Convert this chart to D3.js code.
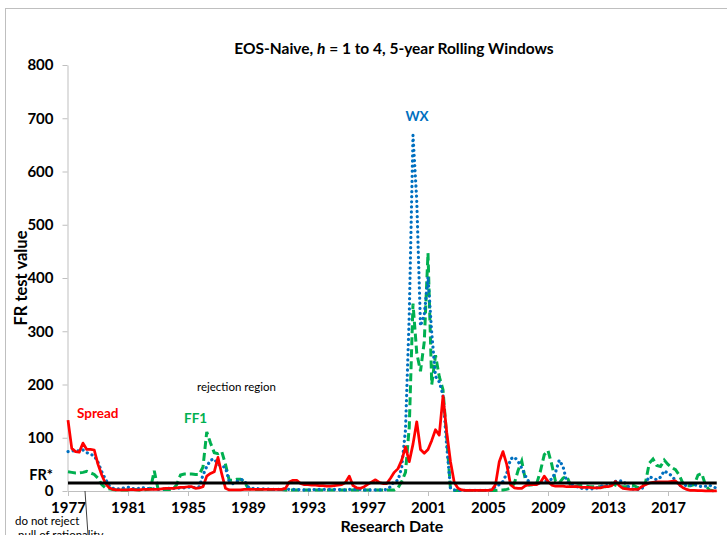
<!DOCTYPE html>
<html>
<head>
<meta charset="utf-8">
<script src="https://cdn.jsdelivr.net/npm/d3@7"></script>
<style>
  html, body { margin: 0; padding: 0; background: #fff; }
  svg { display: block; font-family: Lato, "Open Sans", sans-serif; }
</style>
</head>
<body>
<svg id="chart" width="727" height="535"></svg>
<script>
// Quarterly FR test statistics, first quarter of 1977 through second quarter of 2020
const startYear = 1977;

const spread = [
  133, 80, 74, 73,     // 1977
  90, 78, 78, 77,      // 1978
  50, 30, 14, 6,       // 1979
  3, 2, 2, 2,          // 1980
  2, 3, 2, 2,          // 1981
  3, 3, 3, 3,          // 1982
  3, 4, 5, 5,          // 1983
  5, 6, 7, 7,          // 1984
  8, 8, 5, 6,          // 1985
  8, 28, 33, 36,       // 1986
  63, 32, 5, 2,        // 1987
  2, 2, 2, 3,          // 1988
  3, 3, 3, 3,          // 1989
  3, 3, 3, 3,          // 1990
  3, 3, 5, 17,         // 1991
  20, 20, 14, 12,      // 1992
  12, 11, 11, 10,      // 1993
  10, 9, 9, 10,        // 1994
  11, 12, 16, 28,      // 1995
  10, 6, 5, 8,         // 1996
  13, 17, 21, 16,      // 1997
  14, 14, 24, 35,      // 1998
  42, 58, 83, 55,      // 1999
  88, 130, 78, 71,     // 2000
  78, 95, 115, 105,    // 2001
  178, 110, 55, 16,    // 2002
  5, 2, 1, 1,          // 2003
  1, 1, 1, 1,          // 2004
  1, 2, 12, 55,        // 2005
  74, 50, 12, 6,       // 2006
  5, 5, 10, 12,        // 2007
  12, 12, 16, 28,      // 2008
  18, 11, 9, 9,        // 2009
  9, 8, 8, 8,          // 2010
  8, 7, 7, 7,          // 2011
  6, 6, 6, 8,          // 2012
  8, 10, 18, 10,       // 2013
  5, 4, 3, 3,          // 2014
  3, 8, 12, 15,        // 2015
  16, 17, 17, 17,      // 2016
  17, 18, 19, 12,      // 2017
  6, 3, 1, 1,          // 2018
  0.5, 0.5, 0.3, 0.3,  // 2019
  0.2, 0.2             // 2020
];

const wx = [
  74, 75, 76, 75,      // 1977
  77, 72, 69, 66,      // 1978
  54, 36, 22, 10,      // 1979
  5, 4, 4, 6,          // 1980
  7, 5, 4, 5,          // 1981
  6, 5, 4, 4,          // 1982
  3, 4, 4, 5,          // 1983
  5, 5, 6, 6,          // 1984
  7, 7, 6, 8,          // 1985
  30, 46, 58, 60,      // 1986
  50, 47, 44, 18,      // 1987
  14, 18, 22, 20,      // 1988
  8, 5, 5, 4,          // 1989
  4, 4, 3, 3,          // 1990
  3, 3, 4, 3,          // 1991
  3, 3, 2, 2,          // 1992
  2, 2, 3, 3,          // 1993
  3, 3, 3, 3,          // 1994
  3, 2, 2, 3,          // 1995
  3, 3, 3, 2,          // 1996
  2, 2, 2, 2,          // 1997
  2, 3, 8, 18,         // 1998
  20, 45, 115, 330,    // 1999
  668, 546, 310, 330,  // 2000
  402, 296, 215, 205,  // 2001
  180, 83, 5, 2,       // 2002
  1, 1, 1, 1,          // 2003
  1, 1, 1, 1,          // 2004
  1, 2, 8, 12,         // 2005
  18, 33, 60, 64,      // 2006
  56, 43, 28, 16,      // 2007
  11, 14, 16, 18,      // 2008
  20, 22, 35, 58,      // 2009
  46, 18, 12, 11,      // 2010
  7, 5, 4, 4,          // 2011
  4, 6, 9, 10,         // 2012
  10, 12, 18, 19,      // 2013
  19, 11, 5, 3,        // 2014
  3, 4, 14, 27,        // 2015
  24, 21, 26, 38,      // 2016
  33, 29, 19, 10,      // 2017
  10, 11, 11, 12,      // 2018
  10, 8, 9, 11,        // 2019
  8, 5                 // 2020
];

const ff1 = [
  36, 35, 34, 34,      // 1977
  35, 37, 34, 31,      // 1978
  24, 12, 6, 4,        // 1979
  3, 2, 2, 2,          // 1980
  2, 3, 3, 2,          // 1981
  2, 3, 4, 38,         // 1982
  4, 3, 3, 3,          // 1983
  3, 12, 30, 32,       // 1984
  32, 32, 31, 31,      // 1985
  45, 111, 90, 72,     // 1986
  70, 74, 50, 20,      // 1987
  20, 22, 22, 18,      // 1988
  5, 3, 3, 3,          // 1989
  3, 3, 3, 3,          // 1990
  3, 3, 2, 2,          // 1991
  2, 2, 2, 2,          // 1992
  2, 2, 2, 2,          // 1993
  2, 2, 2, 2,          // 1994
  2, 2, 2, 2,          // 1995
  2, 2, 2, 2,          // 1996
  2, 2, 2, 2,          // 1997
  2, 2, 2, 2,          // 1998
  6, 18, 35, 120,      // 1999
  352, 259, 225, 280,  // 2000
  447, 200, 255, 215,  // 2001
  190, 100, 3, 1,      // 2002
  1, 1, 1, 1,          // 2003
  1, 1, 1, 1,          // 2004
  1, 1, 1, 2,          // 2005
  2, 3, 5, 14,         // 2006
  38, 56, 20, 11,      // 2007
  12, 14, 38, 68,      // 2008
  76, 50, 18, 15,      // 2009
  24, 28, 11, 8,       // 2010
  10, 10, 10, 8,       // 2011
  8, 8, 8, 8,          // 2012
  8, 14, 11, 8,        // 2013
  8, 8, 11, 10,        // 2014
  6, 8, 16, 52,        // 2015
  60, 48, 46, 58,      // 2016
  50, 44, 40, 30,      // 2017
  14, 10, 10, 12,      // 2018
  30, 33, 11, 2,       // 2019
  0.5, 0.3             // 2020
];

// Critical value of the FR statistic
const frCritical = 15;

const yearTicks = [1977, 1981, 1985, 1989, 1993, 1997, 2001, 2005, 2009, 2013, 2017];
const valueTicks = [0, 100, 200, 300, 400, 500, 600, 700, 800];

// Research date of each observation (quarter index -> fractional year)
const dates = spread.map((_, i) => startYear + i / 4);

const svg = d3.select("#chart");
const W = 727, H = 535;

// outer chart-area frame
svg.append("rect")
  .attr("x", 5.5).attr("y", 8.5)
  .attr("width", W + 10).attr("height", H + 10)
  .attr("fill", "none").attr("stroke", "#BFBFBF").attr("stroke-width", 1);

const x = d3.scaleLinear().domain([startYear, startYear + (spread.length - 1) / 4]).range([68, 716.75]);
const y = d3.scaleLinear().domain([0, 800]).range([491, 65]);

// axes
const xAxis = svg.append("g")
  .attr("transform", `translate(0,${y(0)})`)
  .call(d3.axisBottom(x).tickValues(yearTicks).tickFormat(d3.format("d")).tickSize(5).tickSizeOuter(0).tickPadding(6));
const yAxis = svg.append("g")
  .attr("transform", `translate(${x(startYear) - 0.5},0)`)
  .call(d3.axisLeft(y).tickValues(valueTicks).tickSize(5).tickSizeOuter(0).tickPadding(9));

[xAxis, yAxis].forEach(g => {
  g.select(".domain").attr("stroke", "#BFBFBF").attr("stroke-width", 1);
  g.selectAll(".tick line").attr("stroke", "#BFBFBF");
  g.selectAll(".tick text")
    .attr("fill", "#000")
    .style("font-family", "Lato, sans-serif")
    .style("font-weight", "bold")
    .style("font-size", "15px");
});

// series
const line = (vals) => d3.line()
  .x((d, i) => x(dates[i]))
  .y(d => y(d))(vals);

svg.append("path")
  .attr("d", line(ff1))
  .attr("fill", "none").attr("stroke", "#00B050").attr("stroke-width", 3)
  .attr("stroke-dasharray", "8 4");

svg.append("path")
  .attr("d", line(wx))
  .attr("fill", "none").attr("stroke", "#0070C0").attr("stroke-width", 3.2)
  .attr("stroke-linecap", "round").attr("stroke-dasharray", "0.1 5");

svg.append("path")
  .attr("d", line(spread))
  .attr("fill", "none").attr("stroke", "#FF0000").attr("stroke-width", 2.75)
  .attr("stroke-linejoin", "round");

// FR* critical value line
svg.append("line")
  .attr("x1", x(startYear)).attr("x2", x(dates[dates.length - 1]))
  .attr("y1", y(frCritical)).attr("y2", y(frCritical))
  .attr("stroke", "#000").attr("stroke-width", 3);

// texts
const txt = (s, xx, yy, opts = {}) => svg.append("text")
  .attr("x", xx).attr("y", yy)
  .attr("text-anchor", opts.anchor || "start")
  .attr("fill", opts.fill || "#000")
  .style("font-size", (opts.size || 14) + "px")
  .style("font-weight", opts.weight || "bold")
  .text(s);

const title = svg.append("text")
  .attr("x", 394).attr("y", 54)
  .attr("text-anchor", "middle")
  .style("font-size", "15.5px").style("font-weight", "bold");
title.append("tspan").text("EOS-Naive, ");
title.append("tspan").style("font-style", "italic").text("h");
title.append("tspan").text(" = 1 to 4, 5-year Rolling Windows");

txt("Research Date", 392, 532, { anchor: "middle", size: 16 });
svg.append("text")
  .attr("transform", "translate(27,278) rotate(-90)")
  .attr("text-anchor", "middle")
  .style("font-size", "16.5px").style("font-weight", "bold")
  .text("FR test value");

txt("FR*", 53, 480, { anchor: "end", size: 14.5 });
txt("Spread", 77, 418, { fill: "#FF0000", size: 13.5 });
txt("FF1", 184, 423, { fill: "#00B050", size: 13.5 });
txt("WX", 417, 121, { anchor: "middle", fill: "#0070C0", size: 13.5 });
txt("rejection region", 197, 391, { size: 11.5, weight: "normal" });
txt("do not reject", 15, 525, { size: 11.5, weight: "normal" });
txt("null of rationality", 18, 539, { size: 11.5, weight: "normal" });

// pointer from the note to the acceptance band
svg.append("line")
  .attr("x1", 85).attr("y1", y(0))
  .attr("x2", 88).attr("y2", 535)
  .attr("stroke", "#404040").attr("stroke-width", 1);
</script>
</body>
</html>
